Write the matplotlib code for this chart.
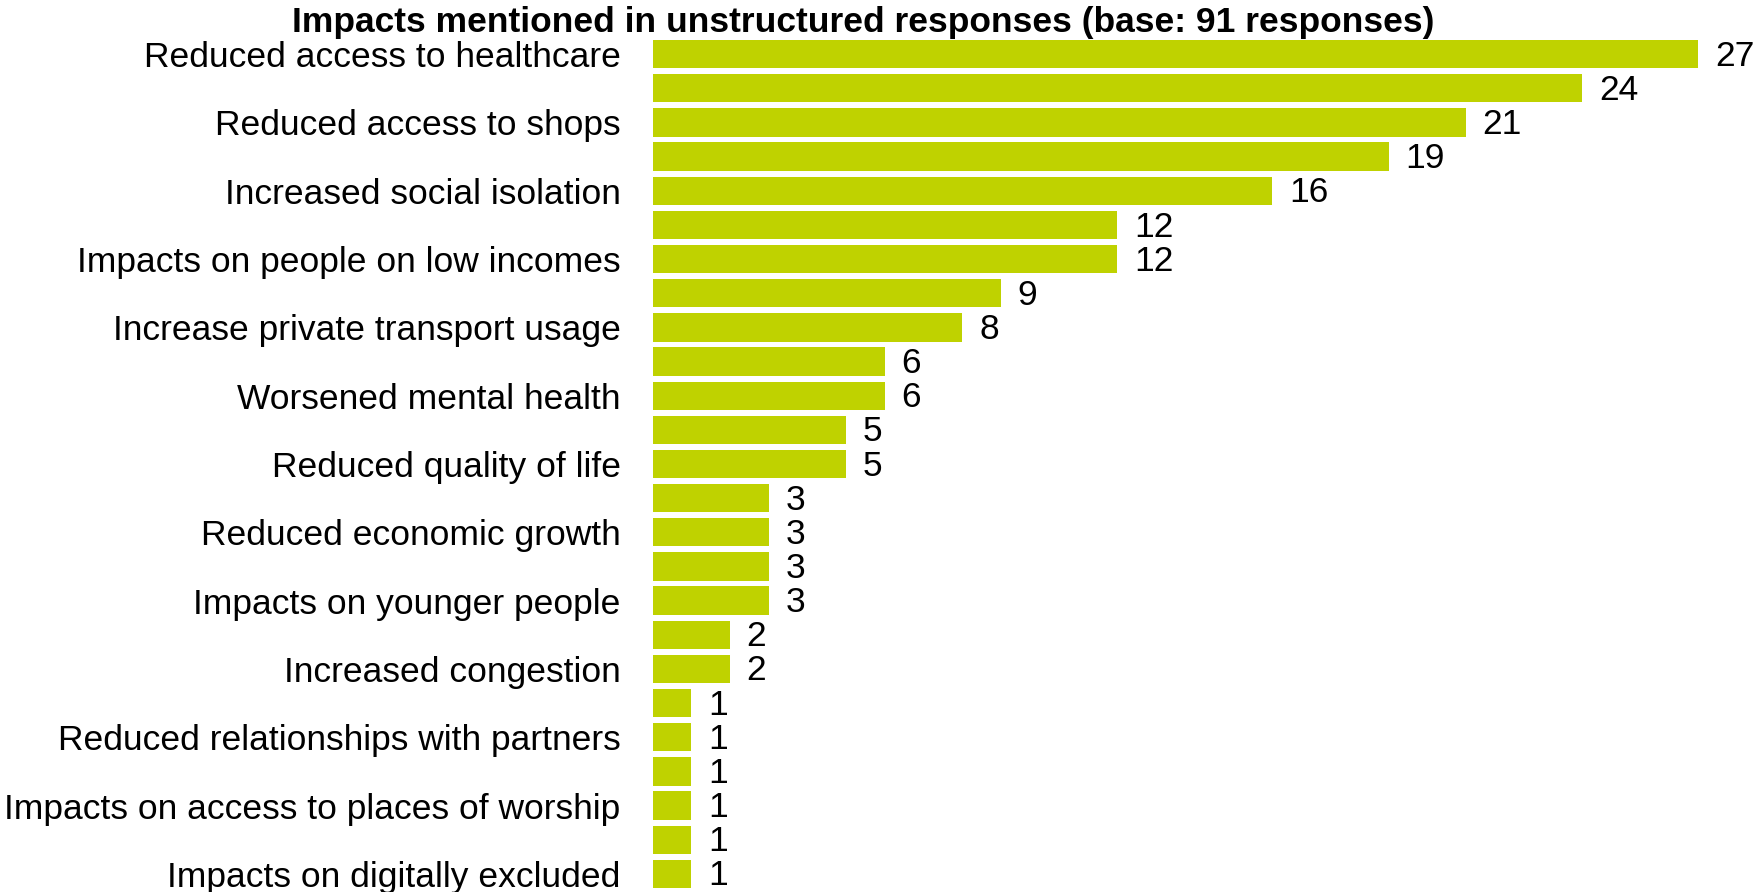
import matplotlib
matplotlib.use("Agg")
import matplotlib.pyplot as plt
import numpy as np

plt.rcParams['font.family'] = ['Liberation Sans', 'DejaVu Sans']

title = "Impacts mentioned in unstructured responses (base: 91 responses)"
# only every other category label is visible in the chart
visible_labels = [
    "Reduced access to healthcare",
    "Reduced access to shops",
    "Increased social isolation",
    "Impacts on people on low incomes",
    "Increase private transport usage",
    "Worsened mental health",
    "Reduced quality of life",
    "Reduced economic growth",
    "Impacts on younger people",
    "Increased congestion",
    "Reduced relationships with partners",
    "Impacts on access to places of worship",
    "Impacts on digitally excluded",
]
values = [27, 24, 21, 19, 16, 12, 12, 9, 8, 6, 6, 5, 5, 3, 3, 3, 3, 2, 2, 1, 1, 1, 1, 1, 1]

n = len(values)
labels = [""] * n
for i, lab in enumerate(visible_labels):
    labels[2 * i] = lab

W, H = 1758, 892
fig = plt.figure(figsize=(W / 100, H / 100), dpi=100)
ax = fig.add_axes([652.5 / W, 1 - 888 / H, 1 - 652.5 / W, (888 - 40) / H])

y = np.arange(n)
bar_h = 0.83
ax.barh(y, values, height=bar_h, color='#BFD200', edgecolor='none')
ax.set_ylim(n - 1 + bar_h / 2, -bar_h / 2)
ax.set_xlim(0, (W - 652.5) / 38.74)

for yi, v in zip(y, values):
    ax.annotate(f"{v}", xy=(v, yi), xytext=(12, -1.5), textcoords='offset points',
                va='center', ha='left', fontsize=25.5, color='black')

ax.set_yticks(y)
ax.set_yticklabels(labels, fontsize=25.5)
ax.tick_params(axis='y', length=0, pad=23)
ax.set_xticks([])
for s in ax.spines.values():
    s.set_visible(False)

fig.text(863 / W, 1 - 6 / H, title, ha='center', va='top', fontsize=25.5, fontweight='bold')

fig.savefig("out.png", dpi=100)
